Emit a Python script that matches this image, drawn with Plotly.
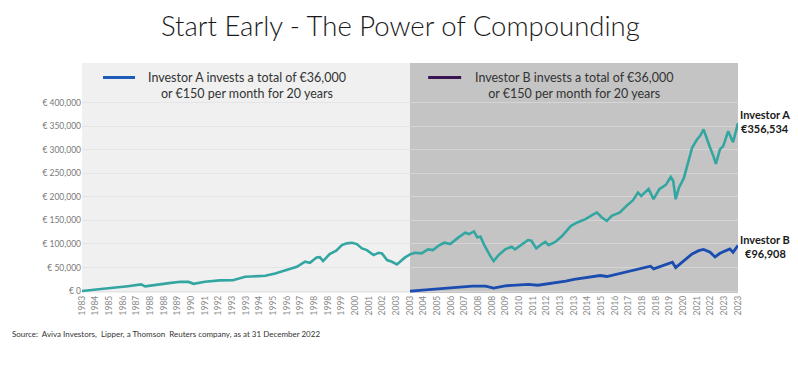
import plotly.graph_objects as go

# ---------------- data ----------------
years_a = [1983.0, 1984.0, 1984.9, 1985.8, 1986.6, 1986.85, 1987.5, 1988.3, 1989.0, 1989.5,
           1989.8, 1990.5, 1991.4, 1992.2, 1992.95, 1994.17, 1994.78, 1995.6, 1996.1, 1996.6,
           1996.9, 1997.3, 1997.5, 1997.7, 1998.1, 1998.5, 1998.85, 1999.15, 1999.46, 1999.76,
           2000.07, 2000.37, 2000.78, 2001.08, 2001.29, 2001.6, 2001.9, 2002.2, 2002.5, 2002.7,
           2003.0, 2003.3, 2003.7, 2004.1, 2004.4, 2004.8, 2005.1, 2005.45, 2005.96, 2006.37,
           2006.6, 2006.9, 2007.1, 2007.3, 2007.5, 2007.7, 2007.9, 2008.1, 2008.4, 2008.8,
           2009.2, 2009.4, 2009.8, 2010.2, 2010.4, 2010.7, 2011.0, 2011.25, 2011.45, 2011.86,
           2012.27, 2012.8, 2013.2, 2013.7, 2014.2, 2014.4, 2014.7, 2015.0, 2015.3, 2015.8,
           2016.2, 2016.6, 2016.9, 2017.1, 2017.55, 2017.85, 2018.2, 2018.6, 2018.9, 2019.05,
           2019.2, 2019.4, 2019.7, 2020.0, 2020.2, 2020.5, 2020.7, 2020.9, 2021.1, 2021.3,
           2021.5, 2021.65, 2021.9, 2022.1, 2022.4, 2022.7, 2023.0]
values_a = [150, 3000, 7000, 10500, 14200, 10000, 13500, 17000, 19800, 19500,
            15500, 20000, 22700, 23000, 30400, 32600, 37500, 46000, 51700, 62300,
            60000, 71500, 72000, 63700, 78600, 85600, 97700, 101300, 102700, 99800,
            90600, 87000, 76500, 81400, 80000, 65800, 62300, 56600, 66500, 71500,
            78000, 81400, 80000, 88500, 87000, 97700, 102700, 99800, 114000, 123900,
            121000, 126700, 114000, 115300, 99800, 85600, 74300, 63700, 76500, 88500,
            94200, 88500, 97700, 108400, 107000, 90600, 99000, 104400, 97700, 104400,
            116800, 138000, 145700, 152800, 163300, 166800, 156300, 149200, 159800, 166800,
            180900, 192900, 209100, 202000, 217000, 195000, 216100, 225300, 242200, 233700,
            195000, 219600, 240000, 276000, 304100, 321700, 330000, 343000, 321700, 304100,
            286500, 270000, 300600, 307600, 339300, 316000, 356534]

years_b = [2003.0, 2003.5, 2004.0, 2004.7, 2005.5, 2006.2, 2006.8, 2007.6, 2008.1, 2008.8,
           2009.5, 2010.2, 2010.8, 2011.3, 2011.9, 2012.5, 2013.0, 2014.0, 2014.6, 2015.0,
           2015.8, 2016.3, 2016.85, 2017.66, 2017.86, 2018.5, 2019.0, 2019.2, 2019.7, 2020.2,
           2020.6, 2020.9, 2021.3, 2021.6, 2021.9, 2022.3, 2022.5, 2022.7, 2023.0]
values_b = [150, 1500, 3000, 5700, 7500, 9000, 10600, 10600, 6500, 11300,
            12500, 14200, 12500, 15000, 17700, 21000, 25000, 29600, 33100, 31000,
            38000, 42000, 47200, 52800, 47200, 55600, 61200, 50000, 64000, 79000,
            85900, 88500, 82400, 72500, 80300, 85900, 89400, 82400, 96908]

tick_labels = ["1983", "1984", "1985", "1986", "1987", "1988", "1988", "1989", "1990", "1991",
               "1992", "1993", "1993", "1994", "1995", "1996", "1997", "1998", "1998", "1999",
               "2000", "2001", "2002", "2003", "2003", "2004", "2005", "2006", "2007", "2008",
               "2008", "2009", "2010", "2011", "2012", "2013", "2013", "2014", "2015", "2016",
               "2017", "2018", "2018", "2019", "2020", "2021", "2022", "2023", "2023"]
y_ticks = [0, 50000, 100000, 150000, 200000, 250000, 300000, 350000, 400000]
y_tick_labels = ["€ 0", "€ 50,000", "€ 100,000", "€ 150,000", "€ 200,000",
                 "€ 250,000", "€ 300,000", "€ 350,000", "€ 400,000"]

legend_a = "Investor A invests a total of €36,000<br>or €150 per month for 20 years"
legend_b = "Investor B invests a total of €36,000<br>or €150 per month for 20 years"
end_a = ("Investor A", "€356,534")
end_b = ("Investor B", "€96,908")
title = "Start Early - The Power of Compounding"
source = "Source:  Aviva Investors,  Lipper, a Thomson  Reuters company, as at 31 December 2022"

# ---------------- figure ----------------
TEAL = "#33a6a2"
BLUE = "#1b4cb0"
tick_pos = [1983 + k * 10 / 12 for k in range(len(tick_labels))]

fig = go.Figure()
fig.add_trace(go.Scatter(x=years_a, y=values_a, mode="lines",
                         line=dict(color=TEAL, width=2.6), showlegend=False, hoverinfo="skip"))
fig.add_trace(go.Scatter(x=years_b, y=values_b, mode="lines",
                         line=dict(color=BLUE, width=2.8), showlegend=False, hoverinfo="skip"))

W = 655.7
H = 230.0
def px(x):
    return (x - 82) / W
def py(y):
    return (293 - y) / H

shapes = [
    dict(type="rect", xref="x", yref="paper", x0=1983, x1=2003, y0=0, y1=1,
         fillcolor="#f0f0f0", line=dict(width=0), layer="below"),
    dict(type="rect", xref="x", yref="paper", x0=2003, x1=2023, y0=0, y1=1,
         fillcolor="#c4c4c4", line=dict(width=0), layer="below"),
    # legend swatches
    dict(type="line", xref="paper", yref="paper", x0=px(103), x1=px(135),
         y0=py(77.5), y1=py(77.5), line=dict(color="#1f5cb8", width=3)),
    dict(type="line", xref="paper", yref="paper", x0=px(428), x1=px(461),
         y0=py(77.5), y1=py(77.5), line=dict(color="#3a1452", width=3)),
]

leg_font = dict(family="Lato, sans-serif", size=12.5, color="#333333")
end_font = dict(family="Lato, sans-serif", size=11, color="#1a1a1a", weight="bold")
annotations = [
    dict(text=legend_a, xref="paper", yref="paper", x=px(246.5), y=py(85),
         xanchor="center", yanchor="middle", showarrow=False, align="center", font=leg_font),
    dict(text=legend_b, xref="paper", yref="paper", x=px(573.5), y=py(85),
         xanchor="center", yanchor="middle", showarrow=False, align="center", font=leg_font),
    dict(text=end_a[0], xref="paper", yref="paper", x=px(765), y=py(114),
         xanchor="center", yanchor="middle", showarrow=False, font=end_font),
    dict(text=end_a[1], xref="paper", yref="paper", x=px(765), y=py(128.5),
         xanchor="center", yanchor="middle", showarrow=False, font=end_font),
    dict(text=end_b[0], xref="paper", yref="paper", x=px(765), y=py(239),
         xanchor="center", yanchor="middle", showarrow=False, font=end_font),
    dict(text=end_b[1], xref="paper", yref="paper", x=px(765), y=py(253.5),
         xanchor="center", yanchor="middle", showarrow=False, font=end_font),
    dict(text=source, xref="paper", yref="paper", x=px(10), y=py(334),
         xanchor="left", yanchor="middle", showarrow=False,
         font=dict(family="Lato, sans-serif", size=8, color="#333333")),
    dict(text=title, xref="paper", yref="paper", x=px(400), y=py(25),
         xanchor="center", yanchor="middle", showarrow=False,
         font=dict(family="Lato, sans-serif", size=27.5, color="#1a1a1a", weight=300)),
]

fig.update_layout(
    width=798, height=365,
    margin=dict(l=82, r=60.3, t=63, b=72, autoexpand=False),
    paper_bgcolor="white", plot_bgcolor="white",
    shapes=shapes, annotations=annotations,
    xaxis=dict(range=[1983, 2023], tickvals=tick_pos, ticktext=tick_labels, tickangle=-90,
               showgrid=False, zeroline=False, showline=False, ticks="",
               tickfont=dict(family="Lato, sans-serif", size=8.5, color="#8a8a8a")),
    yaxis=dict(range=[-4000, 484000], tickvals=y_ticks, ticktext=y_tick_labels,
               showgrid=True, gridcolor="rgba(222,222,222,0.65)", gridwidth=1,
               zeroline=False, showline=False, ticks="",
               tickfont=dict(family="Lato, sans-serif", size=8.5, color="#7a7a7a")),
)

fig.write_html("out.html", config={"displayModeBar": False},
               post_script="document.body.style.margin='0';document.body.style.overflow='hidden';")
